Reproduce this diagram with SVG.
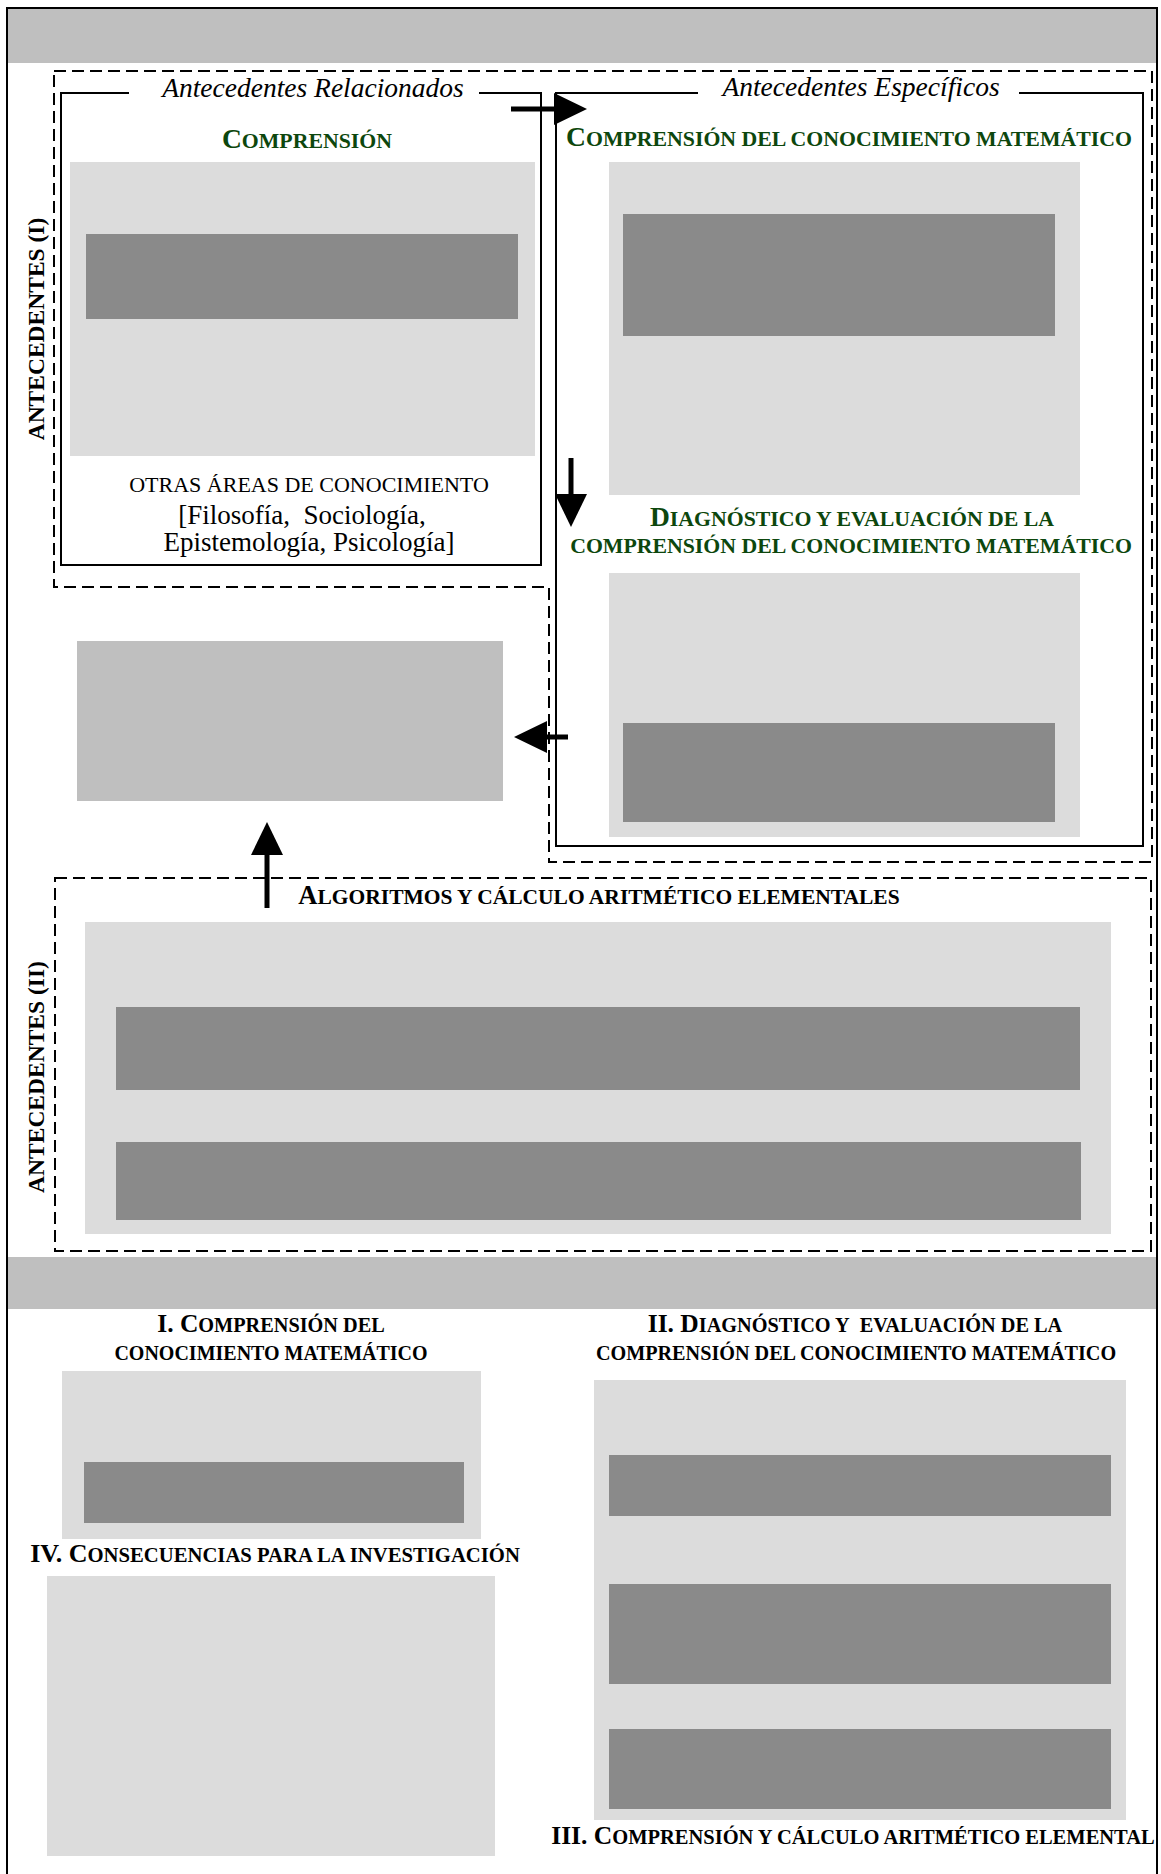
<svg xmlns="http://www.w3.org/2000/svg" width="1161" height="1874" viewBox="0 0 1161 1874">
<style>
.hdr{fill:#bfbfbf}
.lg{fill:#dcdcdc}
.dg{fill:#8a8a8a}
.box{fill:none;stroke:#000;stroke-width:2}
.dash{fill:none;stroke:#000;stroke-width:2;stroke-dasharray:12 6}
.t{font-family:'Liberation Serif','Times New Roman',serif;fill:#000}
.it{font-style:italic;font-size:27.5px}
.b{font-weight:bold}
.g{fill:#0d470d}
.arr{stroke:#000;stroke-width:5;fill:none;marker-end:url(#ah)}
</style>
<defs>
<marker id="ah" markerUnits="userSpaceOnUse" markerWidth="33" markerHeight="32" refX="12" refY="16" orient="auto">
<path d="M0,0 L33,16 L0,32 z" fill="#000"/>
</marker>
</defs>
<rect x="0" y="0" width="1161" height="1874" fill="#fff"/>
<rect x="7" y="8" width="1150" height="1890" class="box"/>
<rect x="8" y="9" width="1148" height="54" class="hdr"/>
<rect x="8" y="1257" width="1148" height="52" class="hdr"/>

<g id="antecedentes-i">
<polygon points="54,71 1152,71 1152,862 549,862 549,587 54,587" class="dash"/>
<text class="t b" x="36" y="329" font-size="23.5" text-anchor="middle" transform="rotate(-90 36 329)" dy="8">ANTECEDENTES (I)</text>
</g>

<g id="relacionados">
<path d="M129,93 H61 V565 H541 V93 H479" class="box"/>
<text class="t it" x="313" y="97" text-anchor="middle">Antecedentes Relacionados</text>
<text class="t b g" x="307" y="148" text-anchor="middle" font-size="21.8"><tspan font-size="27.5">C</tspan>OMPRENSIÓN</text>
<rect x="70" y="162" width="465" height="294" class="lg"/>
<rect x="86" y="234" width="432" height="85" class="dg"/>
<text class="t" x="309" y="492" text-anchor="middle" font-size="22">OTRAS ÁREAS DE CONOCIMIENTO</text>
<text class="t" x="302" y="524" text-anchor="middle" font-size="27">[Filosofía,&#160; Sociología,</text>
<text class="t" x="309" y="551" text-anchor="middle" font-size="27">Epistemología, Psicología]</text>
</g>

<g id="especificos">
<path d="M698,93 H556 V846 H1143 V93 H1019" class="box"/>
<text class="t it" x="861" y="96" text-anchor="middle">Antecedentes Específicos</text>
<text class="t b g" x="849" y="146" text-anchor="middle" font-size="21.8"><tspan font-size="27.5">C</tspan>OMPRENSIÓN DEL CONOCIMIENTO MATEMÁTICO</text>
<rect x="609" y="162" width="471" height="333" class="lg"/>
<rect x="623" y="214" width="432" height="122" class="dg"/>
<text class="t b g" x="852" y="526" text-anchor="middle" font-size="21.8"><tspan font-size="27.5">D</tspan>IAGNÓSTICO Y EVALUACIÓN DE LA</text>
<text class="t b g" x="851" y="553" text-anchor="middle" font-size="21.8">COMPRENSIÓN DEL CONOCIMIENTO MATEMÁTICO</text>
<rect x="609" y="573" width="471" height="264" class="lg"/>
<rect x="623" y="723" width="432" height="99" class="dg"/>
</g>

<g id="sintesis">
<rect x="77" y="641" width="426" height="160" class="hdr"/>
</g>

<g id="antecedentes-ii">
<rect x="55" y="878" width="1096" height="373" class="dash"/>
<text class="t b" x="36" y="1077" font-size="23.5" text-anchor="middle" transform="rotate(-90 36 1077)" dy="8">ANTECEDENTES (II)</text>
<text class="t b" x="599" y="904" text-anchor="middle" font-size="21.5"><tspan font-size="26.5">A</tspan>LGORITMOS Y CÁLCULO ARITMÉTICO ELEMENTALES</text>
<rect x="85" y="922" width="1026" height="312" class="lg"/>
<rect x="116" y="1007" width="964" height="83" class="dg"/>
<rect x="116" y="1142" width="965" height="78" class="dg"/>
</g>

<g id="seccion-i">
<text class="t b" x="271" y="1332" text-anchor="middle" font-size="20.3"><tspan font-size="25.5">I. C</tspan>OMPRENSIÓN DEL</text>
<text class="t b" x="271" y="1360" text-anchor="middle" font-size="20">CONOCIMIENTO MATEMÁTICO</text>
<rect x="62" y="1371" width="419" height="168" class="lg"/>
<rect x="84" y="1462" width="380" height="61" class="dg"/>
</g>

<g id="seccion-iv">
<text class="t b" x="275" y="1562" text-anchor="middle" font-size="20.7"><tspan font-size="26">IV. C</tspan>ONSECUENCIAS PARA LA INVESTIGACIÓN</text>
<rect x="47" y="1576" width="448" height="280" class="lg"/>
</g>

<g id="seccion-ii">
<text class="t b" x="855" y="1332" text-anchor="middle" font-size="20.3"><tspan font-size="25.5">II. D</tspan>IAGNÓSTICO Y&#160; EVALUACIÓN DE LA</text>
<text class="t b" x="856" y="1360" text-anchor="middle" font-size="20.2">COMPRENSIÓN DEL CONOCIMIENTO MATEMÁTICO</text>
<rect x="594" y="1380" width="532" height="440" class="lg"/>
<rect x="609" y="1455" width="502" height="61" class="dg"/>
<rect x="609" y="1584" width="502" height="100" class="dg"/>
<rect x="609" y="1729" width="502" height="80" class="dg"/>
</g>

<g id="seccion-iii">
<text class="t b" x="853" y="1844" text-anchor="middle" font-size="20.5"><tspan font-size="25.5">III. C</tspan>OMPRENSIÓN Y CÁLCULO ARITMÉTICO ELEMENTAL</text>
</g>

<g id="connectors">
<line x1="511" y1="109" x2="566" y2="109" class="arr"/>
<line x1="571" y1="458" x2="571" y2="506" class="arr"/>
<line x1="568" y1="737" x2="535" y2="737" class="arr"/>
<line x1="267" y1="908" x2="267" y2="843" class="arr"/>
</g>
</svg>
